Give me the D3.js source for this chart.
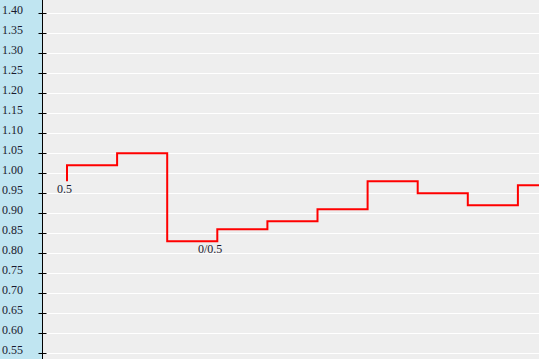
<!DOCTYPE html>
<html>
<head>
<meta charset="utf-8">
<script src="https://cdn.jsdelivr.net/npm/d3@7"></script>
<style>
  body { margin: 0; background: #eeeeee; }
  svg { display: block; font-family: "Liberation Serif", "Times New Roman", serif; }
</style>
</head>
<body>
<svg id="chart" width="539" height="359"></svg>
<script>
// step line values
const values = [0.98, 1.02, 1.05, 0.83, 0.86, 0.88, 0.91, 0.98, 0.95, 0.92, 0.97];
const pointLabels = ["0.5", "", "", "0/0.5", "", "", "", "", "", "", ""];
const yTicks = d3.range(0.55, 1.4001, 0.05);

const W = 539, H = 359;
const AX = 42.5; // axis line x

const svg = d3.select("#chart");

const x = d3.scaleLinear().domain([0, 10]).range([67, 568]);
const y = d3.scaleLinear().domain([0.55, 1.40]).range([353.3, 13.3]);

// background + axis panel
svg.append("rect").attr("width", W).attr("height", H).attr("fill", "#eeeeee");
svg.append("rect").attr("width", AX).attr("height", H).attr("fill", "#c0e5f1");

// gridlines
svg.append("g").selectAll("line").data(yTicks).join("line")
  .attr("x1", AX + 1).attr("x2", W)
  .attr("y1", d => Math.round(y(d)) + 0.5).attr("y2", d => Math.round(y(d)) + 0.5)
  .attr("stroke", "#ffffff").attr("stroke-width", 1);

// y axis
const gY = svg.append("g").attr("transform", `translate(${AX},0)`)
  .call(d3.axisLeft(y).tickValues(yTicks).tickFormat(d3.format(".2f")).tickSize(4).tickPadding(15.5));
gY.select(".domain").remove();
gY.selectAll(".tick line").attr("x1", -4).attr("x2", 4).attr("stroke", "#000");
gY.selectAll(".tick").attr("transform", d => `translate(0,${Math.round(y(d)) + 0.5})`);
gY.selectAll(".tick text").attr("font-size", 12).attr("fill", "#1a1a2e")
  .attr("font-family", "Liberation Serif, serif").attr("dy", "0.08em");
svg.append("line").attr("x1", AX).attr("x2", AX).attr("y1", 0).attr("y2", H)
  .attr("stroke", "#000").attr("stroke-width", 1);

// step line
const line = d3.line()
  .x((d, i) => x(i))
  .y(d => y(d))
  .curve(d3.curveStepBefore);

svg.append("path").datum(values)
  .attr("d", line)
  .attr("fill", "none")
  .attr("stroke", "#ff0000")
  .attr("stroke-width", 2);

// point labels
svg.append("g").selectAll("text").data(values.map((v, i) => ({ v, i, t: pointLabels[i] })).filter(d => d.t))
  .join("text")
  .attr("x", d => x(d.i) + 5)
  .attr("y", d => y(d.v) + 12)
  .attr("text-anchor", "end")
  .attr("font-size", 12)
  .attr("fill", "#1a1a2e")
  .text(d => d.t);
</script>
</body>
</html>
